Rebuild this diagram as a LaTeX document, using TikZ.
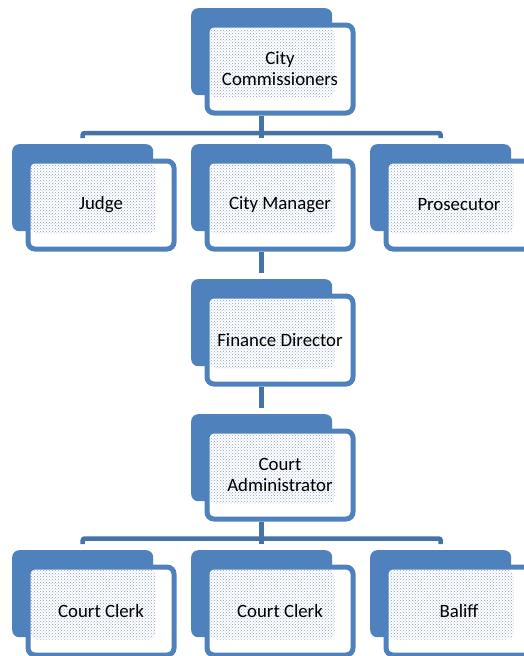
\documentclass[tikz,border=0pt]{standalone}
\usepackage{fontspec}
\setmainfont{Carlito}
\usepackage{xcolor}
\usepackage{tikz}
\usetikzlibrary{positioning,patterns}

\definecolor{boxblue}{HTML}{4F81BD}
\definecolor{lineblue}{HTML}{4672A8}
\definecolor{dotblue}{RGB}{140,162,200}

\begin{document}
\begin{tikzpicture}[x=1pt,y=1pt,
    backbox/.style={anchor=north west, fill=boxblue, rounded corners=7pt,
        minimum width=141pt, minimum height=87pt, inner sep=0pt},
    frontbox/.style={anchor=north west, fill=white, draw=boxblue, line width=5pt,
        rounded corners=7pt, minimum width=146pt, minimum height=88pt,
        align=center, font=\fontsize{18.8}{21}\selectfont,
        path picture={\fill[pattern=crosshatch dots, pattern color=dotblue]
            ([shift={(2.5pt,-2.5pt)}]path picture bounding box.north west) rectangle
            ([shift={(127.5pt,-72.5pt)}]path picture bounding box.north west);}},
    conn/.style={draw=lineblue, line width=4.5pt}]

    \useasboundingbox (0,0) rectangle (523,-656);

    % Boxes
    \foreach \nm/\x/\y/\txt in {comm/191/8/{City\\Commissioners},
        judge/12/144/{Judge}, mgr/191/144/{City Manager}, pros/370/144/{Prosecutor},
        fin/191/279/{Finance Director}, adm/191/414/{Court\\Administrator},
        clerka/12/550/{Court Clerk}, clerkb/191/550/{Court Clerk}, bal/370/550/{Baliff}} {
        \node[backbox] (\nm-b) at (\x,-\y) {};
        \node[frontbox] (\nm) at ([shift={(13.5,-14.5)}]\nm-b.north west) {\txt};
    }

    % Lines: top level
    \coordinate (bar1) at ([yshift=-17.5pt]comm.south -| comm-b.south);
    \draw[conn] (comm.south -| comm-b.south) -- (bar1);
    \draw[conn, rounded corners=2pt] ([yshift=6pt]judge-b.north) |- (bar1) -| ([yshift=6pt]pros-b.north);
    \draw[conn] (bar1) -- ([yshift=6pt]mgr-b.north);

    % Lines: middle
    \draw[conn] (mgr.south -| mgr-b.south) -- ([yshift=6pt]fin-b.north);
    \draw[conn] (fin.south -| fin-b.south) -- ([yshift=6pt]adm-b.north);

    % Lines: bottom level
    \coordinate (bar2) at ([yshift=-17pt]adm.south -| adm-b.south);
    \draw[conn] (adm.south -| adm-b.south) -- (bar2);
    \draw[conn, rounded corners=2pt] ([yshift=6pt]clerka-b.north) |- (bar2) -| ([yshift=6pt]bal-b.north);
    \draw[conn] (bar2) -- ([yshift=6pt]clerkb-b.north);

\end{tikzpicture}
\end{document}
